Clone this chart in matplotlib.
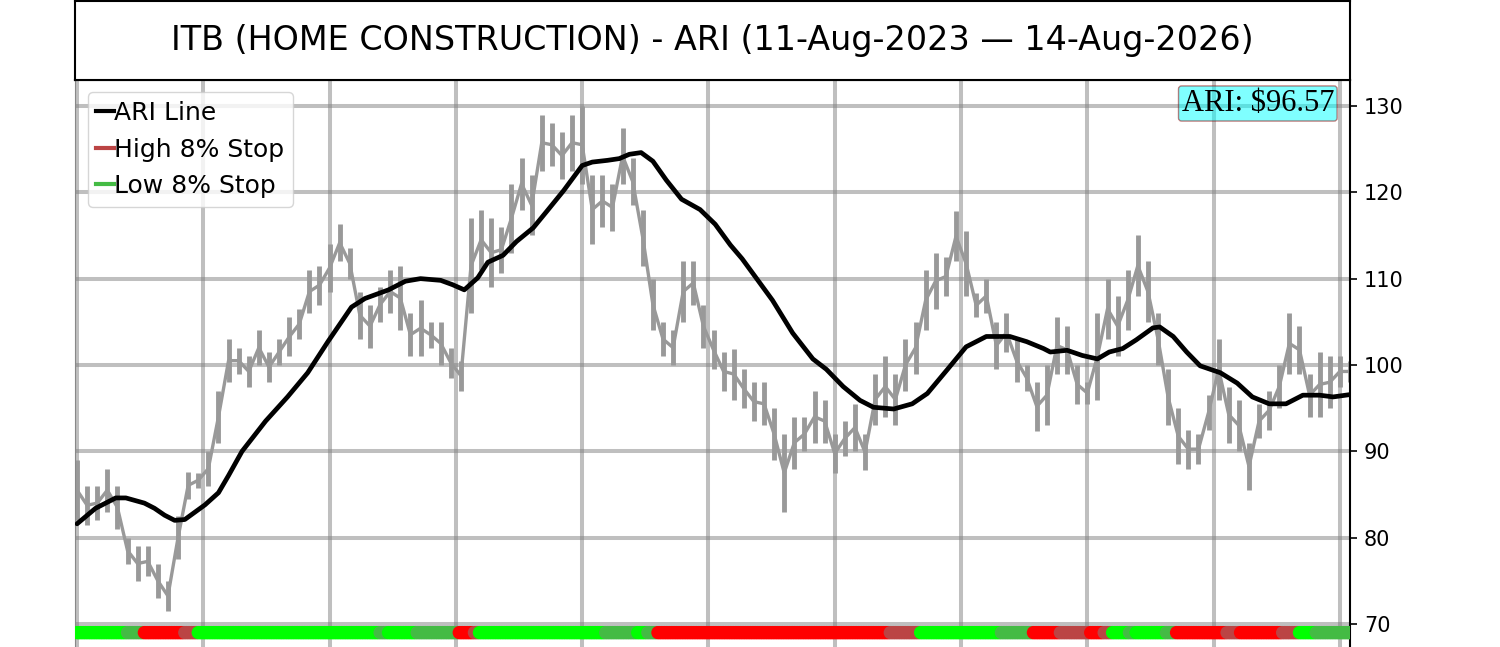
import numpy as np
import matplotlib
matplotlib.use("Agg")
import matplotlib.pyplot as plt
from matplotlib.lines import Line2D

# price samples, one every 6 trading days (high / low of the bar)
price_hi = [89, 86, 86, 88, 86, 80, 79, 79, 77, 75, 82.5, 87.6, 87.5, 90, 97, 103, 102, 101, 104, 101.5,
            103, 105.5, 106.5, 111, 111.5, 114, 116.3, 113.5, 108.5, 107, 109, 111, 111.5, 106, 107.5, 105,
            105, 102, 100.5, 117, 118, 117, 116, 121, 124, 122, 129, 128, 127, 129, 130, 122, 122, 121,
            127.4, 124, 118, 110, 105, 104, 112, 112, 107, 104, 101.5, 101.9, 99.5, 98, 98, 95, 92, 94, 94,
            97, 96, 92, 93.5, 95.5, 92, 99, 101, 99, 103, 105, 111, 113, 112.5, 117.8, 115.5, 108.3, 110,
            105, 106, 103, 100, 98, 100, 105.5, 104.5, 100, 98, 106, 110, 108, 111, 115, 112, 106, 99.5,
            95, 92.5, 92, 96.5, 103, 97.5, 96, 91, 95.5, 97, 100, 106, 104.5, 99, 101.5, 101, 101, 100.5]
price_lo = [82, 81.5, 82, 83, 81, 77, 75, 75.5, 73, 71.5, 77.5, 84.5, 85.8, 86, 91, 98, 99, 97.5, 100, 98,
            100, 101, 103, 106, 107, 108.5, 112, 110, 103, 102, 105, 106, 104, 101, 101, 102,
            100, 98.5, 97, 106, 111, 109, 110.7, 113, 118, 115, 122.5, 123, 121.5, 122.5, 121, 114, 116, 115.5,
            121, 118.5, 111.5, 104, 101, 100, 105, 107, 102, 99.5, 97, 96, 95, 93.5, 93, 89, 83, 88, 90,
            91, 91, 87.5, 89.5, 90, 87.8, 93, 94, 93, 97, 99, 104, 106.5, 108, 112, 108, 105.5, 106,
            99.5, 101.5, 98, 97, 92.4, 93, 99, 99, 95.5, 95.5, 96, 103, 101, 104, 108, 105, 100, 93,
            88.5, 88, 88.5, 92.5, 96, 91, 90, 85.5, 91.5, 92.5, 95, 99, 99, 94, 94, 95, 97.5, 98]
bar_step = 6

# ARI line (trading-day index, value)
ari_bar = [0, 11, 23, 29, 40, 46, 52, 58, 64, 76, 84, 90, 98, 112, 125, 137, 149, 163, 171, 185, 195,
           204, 216, 223, 230, 238, 244, 253, 261, 271, 279, 289, 300, 306, 315, 322, 328, 335, 342, 350,
           359, 370, 379, 388, 395, 404, 413, 425, 437, 445, 455, 465, 473, 485, 496, 505, 517, 528, 540,
           554, 564, 574, 578, 588, 597, 606, 613, 621, 629, 639, 643, 651, 659, 667, 679, 689, 698, 708,
           718, 728, 738, 746, 756]
ari_val = [81.6, 83.4, 84.6, 84.6, 84.0, 83.4, 82.6, 82.0, 82.1, 83.8, 85.2, 87.2, 90.0, 93.5, 96.3, 99.1,
           102.7, 106.7, 107.7, 108.7, 109.7, 110.0, 109.8, 109.3, 108.7, 110.1, 111.9, 112.7, 114.3, 115.9,
           117.8, 120.2, 123.1, 123.5, 123.7, 123.9, 124.4, 124.6, 123.6, 121.4, 119.2, 118.0, 116.3, 113.9,
           112.3, 109.9, 107.5, 103.7, 100.7, 99.5, 97.5, 95.9, 95.1, 94.9, 95.5, 96.7, 99.5, 102.1, 103.3,
           103.3, 102.7, 101.9, 101.5, 101.7, 101.1, 100.7, 101.5, 101.9, 102.9, 104.3, 104.4, 103.3, 101.5,
           99.9, 99.1, 97.9, 96.3, 95.5, 95.5, 96.5, 96.5, 96.3, 96.57]
ari_last = 96.57

# stop state strip along the bottom
seg_start = [0, 30, 40, 64, 72, 180, 185, 202, 227, 236, 239, 314, 333, 339, 345, 483, 501, 549, 568,
             584, 602, 610, 615, 625, 629, 647, 653, 683, 691, 716, 726, 736]
seg_end = seg_start[1:] + [757]
seg_state = ["low", "low_old", "high", "high_old", "low", "low_old", "low", "low_old", "high", "high_old",
             "low", "low_old", "low", "low_old", "high", "high_old", "low", "low_old", "high", "high_old",
             "high", "high_old", "low", "low_old", "low", "low_old", "high", "high_old", "high", "high_old",
             "low", "low_old"]
state_colors = {"low": "#00ff00", "low_old": "#44bb44", "high": "#ff0000", "high_old": "#bb4444"}

title = "ITB (HOME CONSTRUCTION) - ARI (11-Aug-2023 \u2014 14-Aug-2026)"

fig = plt.figure(figsize=(15, 6.47), dpi=100)
ax = fig.add_axes([0.05, -0.1, 0.85, 0.9764])

bars = np.arange(len(price_hi)) * bar_step
mids = (np.array(price_hi) + np.array(price_lo)) / 2
ax.vlines(bars, price_lo, price_hi, color="#999999", lw=3.5, zorder=2)
ax.plot(bars, mids, color="#999999", lw=2.4, zorder=2)

ax.plot(ari_bar, ari_val, color="black", lw=3.4, zorder=3, solid_capstyle="round")

sx, sc = [], []
for s, e, st in zip(seg_start, seg_end, seg_state):
    for b in range(s, e):
        sx.append(b)
        sc.append(state_colors[st])
ax.scatter(sx, [69.0] * len(sx), c=sc, s=92, linewidths=0, zorder=4)

ax.set_xlim(-1.2, 756)
ax.set_ylim(59.84, 133.01)
ax.set_xticks(np.arange(0, 757, 75))
ax.set_yticks(np.arange(70, 131, 10))
ax.yaxis.tick_right()
ax.tick_params(axis="y", labelsize=15, length=5, width=1.2, pad=5)
ax.tick_params(axis="x", labelbottom=False, length=0)
ax.grid(True, color="gray", alpha=0.5, lw=2.9)
ax.set_axisbelow(True)
for side in ["top", "right"]:
    ax.spines[side].set_linewidth(1.5)
ax.spines["left"].set_color("#888888")

handles = [Line2D([], [], color="black", lw=3),
           Line2D([], [], color="#bb4444", lw=3),
           Line2D([], [], color="#44bb44", lw=3)]
ax.legend(handles, ["ARI Line", "High 8% Stop", "Low 8% Stop"], loc="upper left", fontsize=18,
          handlelength=0.7, handletextpad=0.0, borderpad=0.35, labelspacing=0.5, framealpha=0.8)

ax.text(0.9875, 0.9857, r"ARI: \$%.2f" % ari_last, transform=ax.transAxes, ha="right", va="top",
        fontsize=22, family=["Liberation Serif"], zorder=6,
        bbox=dict(boxstyle="round,pad=0.1", fc="cyan", ec="darkred", alpha=0.5))

tax = fig.add_axes([0.05, 0.8764, 0.85, 0.1221])
tax.set_xticks([])
tax.set_yticks([])
for sp in tax.spines.values():
    sp.set_linewidth(1.5)
tax.text(0.5, 0.5, title, ha="center", va="center", fontsize=24, transform=tax.transAxes)

fig.savefig("out.png", dpi=100)
